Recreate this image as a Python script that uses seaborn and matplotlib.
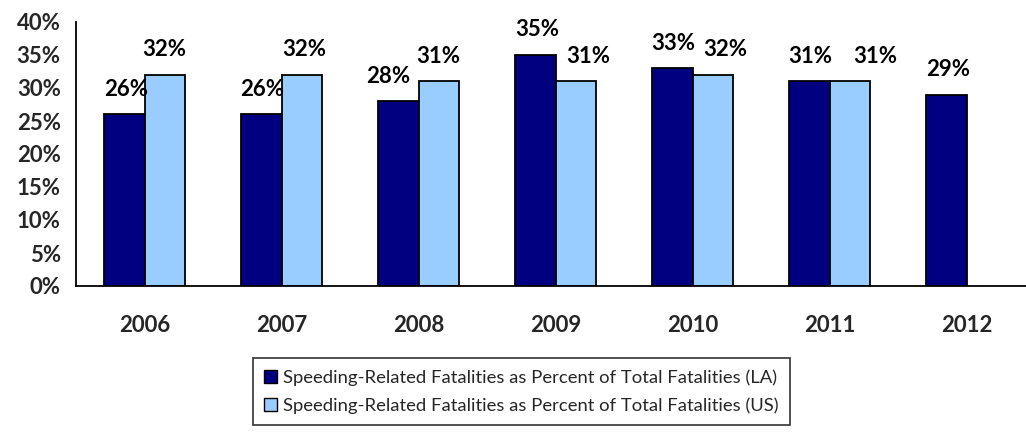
import matplotlib
matplotlib.use("Agg")
import matplotlib.pyplot as plt
import seaborn as sns
import pandas as pd
import numpy as np

years = ["2006", "2007", "2008", "2009", "2010", "2011", "2012"]
la_values = [26, 26, 28, 35, 33, 31, 29]
us_values = [32, 32, 31, 31, 32, 31, np.nan]
series_names = [
    "Speeding-Related Fatalities as Percent of Total Fatalities (LA)",
    "Speeding-Related Fatalities as Percent of Total Fatalities (US)",
]
y_ticks = [0, 5, 10, 15, 20, 25, 30, 35, 40]

df = pd.DataFrame({
    "Year": years * 2,
    "Value": la_values + us_values,
    "Series": [series_names[0]] * len(years) + [series_names[1]] * len(years),
})

sns.set_theme(style="white")
plt.rcParams["font.family"] = ["Lato", "DejaVu Sans"]

fig = plt.figure(figsize=(10.26, 4.32), dpi=100)
# axes extends slightly past the right edge (as in the reference)
ax = fig.add_axes([76 / 1026, (432 - 286) / 432, 959 / 1026, 264 / 432])

palette = {series_names[0]: "#000080", series_names[1]: "#99CCFF"}
sns.barplot(data=df, x="Year", y="Value", hue="Series", order=years,
            hue_order=series_names, palette=palette, width=0.584,
            edgecolor="black", linewidth=1.3, saturation=1, ax=ax)

ax.set_xlim(-0.5, 6.5)
ax.set_ylim(0, 40)
ax.set_yticks(y_ticks)
ax.set_yticklabels([f"{v}%" for v in y_ticks], fontsize=16, fontweight="bold")
ax.set_xticks(range(len(years)))
ax.set_xticklabels(years, fontsize=16, fontweight="bold")
ax.tick_params(axis="x", length=0, pad=21)
ax.tick_params(axis="y", direction="out", length=7, width=1.3, color="black", pad=4)
# category boundary tick marks
ax.set_xticks(np.arange(-0.5, 7.0, 1.0), minor=True)
ax.tick_params(axis="x", which="minor", direction="out", length=7, width=1.3, color="black")
ax.set_xlabel("")
ax.set_ylabel("")
for s in ["top", "right"]:
    ax.spines[s].set_visible(False)
for s in ["left", "bottom"]:
    ax.spines[s].set_color("black")
    ax.spines[s].set_linewidth(1.3)

# value labels with small nudges (px) as in reference
nudges = [[2, 1, -10, 2, 1, 1, 2], [0, 3, 0, 13, 13, 26, 0]]
for ci, cont in enumerate(ax.containers):
    for bi, bar in enumerate(cont):
        h = bar.get_height()
        if np.isnan(h) or h == 0:
            continue
        ax.annotate(f"{int(round(h))}%",
                    (bar.get_x() + bar.get_width() / 2, h),
                    xytext=(nudges[ci][bi] * 0.72, 18), textcoords="offset points",
                    ha="center", va="center", fontsize=16, fontweight="bold",
                    color="black")

leg = ax.legend(loc="upper left", bbox_to_anchor=(253 / 1026, 1 - 358 / 432),
                bbox_transform=fig.transFigure, frameon=True, fancybox=False,
                fontsize=13.3, handlelength=0.7, handleheight=0.7, handletextpad=0.35,
                borderpad=0.6, labelspacing=0.65, borderaxespad=0)
leg.get_frame().set_edgecolor("black")
leg.get_frame().set_linewidth(1.2)
for hnd in leg.legend_handles:
    hnd.set_edgecolor("black")
    hnd.set_linewidth(1.0)

fig.savefig("out.png", dpi=100)
